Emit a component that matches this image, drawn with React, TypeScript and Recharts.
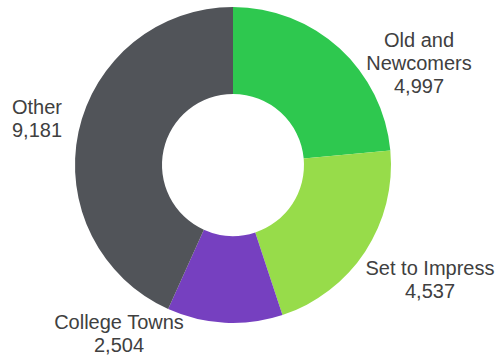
import { PieChart, Pie, Cell } from "recharts";

const segments = ["Old and Newcomers", "Set to Impress", "College Towns", "Other"];
const households = [4997, 4537, 2504, 9181];
const sliceColors = ["#2ec84f", "#97dc4a", "#7640c0", "#515459"];

// label block centre, relative to the pie centre
const labelSpots = [
  { dx: 186, dy: -102, lines: ["Old and", "Newcomers"] },
  { dx: 197, dy: 114, lines: ["Set to Impress"] },
  { dx: -114, dy: 168, lines: ["College Towns"] },
  { dx: -196, dy: -47, lines: ["Other"] },
];

const chartData = segments.map((name, i) => ({ name, value: households[i] }));

const renderLabel = (props: any) => {
  const { cx, cy, index, value } = props;
  const spot = labelSpots[index];
  const lines = [...spot.lines, value.toLocaleString("en-US")];
  const lh = 23;
  const x = cx + spot.dx;
  const yc = cy + spot.dy;
  return (
    <text
      x={x}
      textAnchor="middle"
      fill="#404040"
      fontSize={20}
      fontFamily="'Liberation Sans', Arial, sans-serif"
    >
      {lines.map((line, i) => (
        <tspan key={i} x={x} y={yc + (i - (lines.length - 1) / 2) * lh + 7}>
          {line}
        </tspan>
      ))}
    </text>
  );
};

export default function App() {
  return (
    <div style={{ position: "absolute", left: 0, top: 0, background: "#fff" }}>
      <PieChart width={498} height={357} margin={{ top: 0, right: 0, bottom: 0, left: 0 }}>
        <Pie
          data={chartData}
          dataKey="value"
          nameKey="name"
          cx={233}
          cy={165}
          innerRadius={71}
          outerRadius={158}
          startAngle={90}
          endAngle={-270}
          stroke="none"
          label={renderLabel}
          labelLine={false}
          isAnimationActive={false}
        >
          {chartData.map((d, i) => (
            <Cell key={d.name} fill={sliceColors[i]} />
          ))}
        </Pie>
      </PieChart>
    </div>
  );
}
